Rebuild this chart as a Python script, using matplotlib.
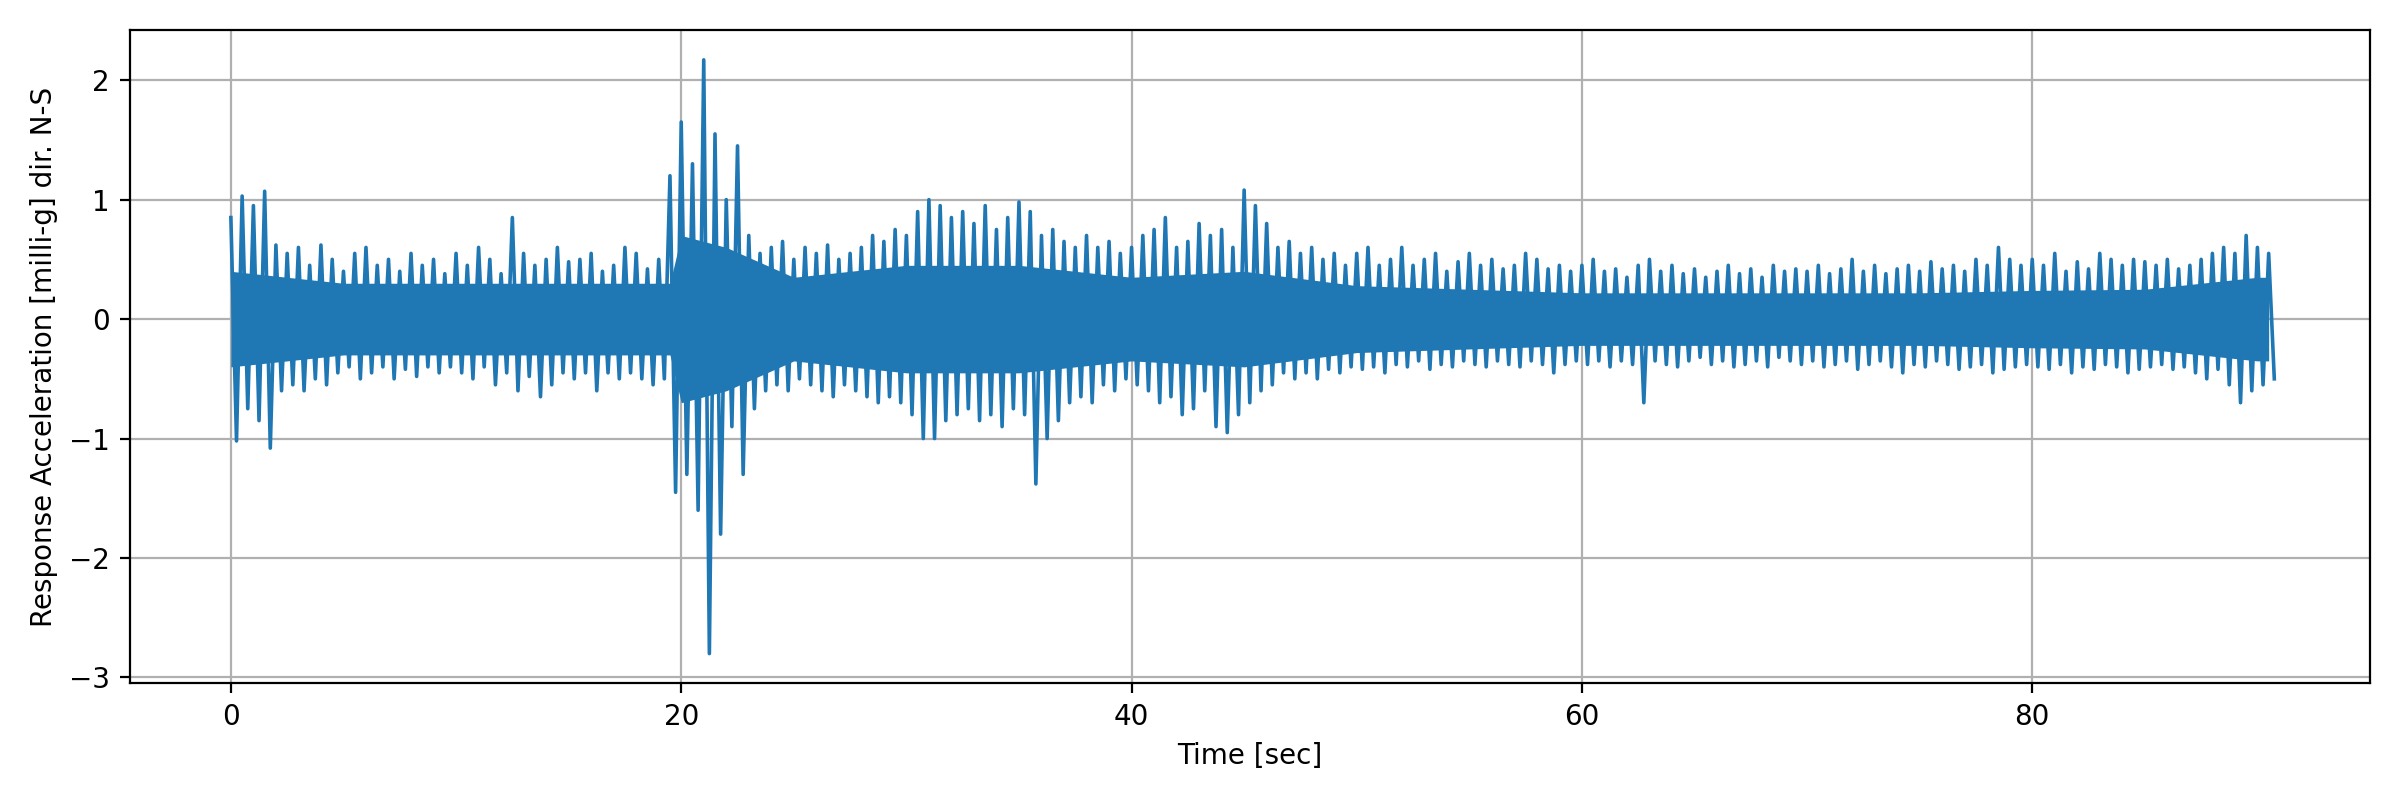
import numpy as np
import matplotlib.pyplot as plt

# peak envelope, every 0.5 s (0 .. 90.5 s)
peak_time = np.arange(0, 91, 0.5)
peak_up = [
    0.85, 1.03, 0.95, 1.07, 0.62, 0.55, 0.6, 0.45, 0.62, 0.5, 0.4, 0.55, 0.6, 0.45, 0.5, 0.4, 0.55, 0.45, 0.5, 0.38,
    0.55, 0.45, 0.6, 0.5, 0.38, 0.85, 0.55, 0.45, 0.5, 0.6, 0.48, 0.5, 0.55, 0.4, 0.45, 0.6, 0.55, 0.42, 0.5, 1.2,
    1.65, 1.3, 2.17, 1.55, 1.0, 1.45, 0.7, 0.55, 0.6, 0.65, 0.5, 0.6, 0.55, 0.62, 0.5, 0.55, 0.6, 0.7, 0.65, 0.75,
    0.7, 0.9, 1.0, 0.95, 0.85, 0.9, 0.8, 0.95, 0.75, 0.85, 0.98, 0.9, 0.7, 0.75, 0.65, 0.6, 0.7, 0.6, 0.65, 0.55,
    0.6, 0.7, 0.75, 0.85, 0.6, 0.65, 0.8, 0.7, 0.75, 0.6, 1.08, 0.95, 0.8, 0.6, 0.65, 0.55, 0.6, 0.5, 0.55, 0.45,
    0.55, 0.6, 0.45, 0.5, 0.6, 0.45, 0.5, 0.55, 0.4, 0.48, 0.55, 0.45, 0.5, 0.42, 0.45, 0.55, 0.5, 0.42, 0.45, 0.4,
    0.45, 0.5, 0.4, 0.42, 0.35, 0.45, 0.5, 0.4, 0.45, 0.38, 0.42, 0.35, 0.4, 0.45, 0.38, 0.42, 0.35, 0.45, 0.4, 0.42,
    0.4, 0.45, 0.38, 0.42, 0.5, 0.4, 0.45, 0.38, 0.42, 0.45, 0.4, 0.48, 0.42, 0.45, 0.4, 0.5, 0.45, 0.6, 0.5, 0.45,
    0.5, 0.45, 0.55, 0.4, 0.48, 0.42, 0.55, 0.5, 0.45, 0.5, 0.48, 0.45, 0.5, 0.42, 0.45, 0.5, 0.55, 0.6, 0.55, 0.7,
    0.6, 0.55,
]
peak_low = [
    -1.02, -0.75, -0.85, -1.08, -0.6, -0.55, -0.6, -0.5, -0.55, -0.45, -0.4, -0.5, -0.45, -0.4, -0.5, -0.42, -0.48, -0.4, -0.45, -0.4,
    -0.45, -0.5, -0.4, -0.55, -0.45, -0.6, -0.48, -0.65, -0.55, -0.45, -0.5, -0.45, -0.6, -0.45, -0.5, -0.45, -0.5, -0.55, -0.5, -1.45,
    -1.3, -1.6, -2.8, -1.8, -0.9, -1.3, -0.75, -0.6, -0.55, -0.6, -0.5, -0.55, -0.6, -0.65, -0.55, -0.6, -0.65, -0.7, -0.65, -0.7,
    -0.8, -1.0, -1.0, -0.85, -0.8, -0.75, -0.85, -0.8, -0.9, -0.75, -0.8, -1.38, -1.0, -0.85, -0.7, -0.65, -0.7, -0.55, -0.6, -0.5,
    -0.55, -0.6, -0.7, -0.65, -0.8, -0.75, -0.6, -0.9, -0.95, -0.8, -0.7, -0.6, -0.55, -0.45, -0.5, -0.45, -0.5, -0.42, -0.45, -0.4,
    -0.42, -0.4, -0.45, -0.38, -0.4, -0.35, -0.42, -0.38, -0.4, -0.35, -0.38, -0.4, -0.35, -0.38, -0.4, -0.35, -0.38, -0.45, -0.38, -0.35,
    -0.38, -0.35, -0.4, -0.35, -0.38, -0.7, -0.35, -0.38, -0.4, -0.35, -0.32, -0.38, -0.35, -0.4, -0.38, -0.35, -0.4, -0.32, -0.35, -0.38,
    -0.35, -0.4, -0.38, -0.35, -0.42, -0.38, -0.35, -0.4, -0.45, -0.38, -0.4, -0.35, -0.38, -0.42, -0.4, -0.38, -0.45, -0.42, -0.4, -0.38,
    -0.4, -0.42, -0.38, -0.45, -0.4, -0.42, -0.38, -0.4, -0.45, -0.42, -0.4, -0.38, -0.42, -0.4, -0.45, -0.5, -0.42, -0.55, -0.7, -0.6,
    -0.55, -0.5,
]

# dense core band of the signal
band_time = [0, 5, 10, 15, 19.5, 20, 22, 25, 30, 35, 40, 45, 50, 55, 60, 65, 70, 75, 80, 85, 90, 90.5]
band_half = [0.4, 0.3, 0.3, 0.3, 0.3, 0.7, 0.6, 0.35, 0.45, 0.45, 0.35, 0.4, 0.28, 0.25, 0.22, 0.22, 0.22, 0.22, 0.24, 0.25, 0.35, 0.35]

color = '#1f77b4'
fig, ax = plt.subplots(figsize=(12, 4), dpi=200)

band_half = np.array(band_half)
ax.fill_between(band_time, -band_half, band_half, color=color, linewidth=0, zorder=2)

# zigzag between successive peaks
zz_t = np.ravel(np.column_stack([peak_time, peak_time + 0.25]))
zz_v = np.ravel(np.column_stack([peak_up, peak_low]))
ax.plot(zz_t, zz_v, color=color, linewidth=1.3, zorder=2)

ax.set_xlim(-4.5, 95)
ax.set_ylim(-3.05, 2.42)
ax.set_xticks([0, 20, 40, 60, 80])
ax.set_xlabel('Time [sec]')
ax.set_ylabel('Response Acceleration [milli-g] dir. N-S')
ax.grid(True, zorder=1)
plt.tight_layout()
plt.savefig('out.png', dpi=200)
